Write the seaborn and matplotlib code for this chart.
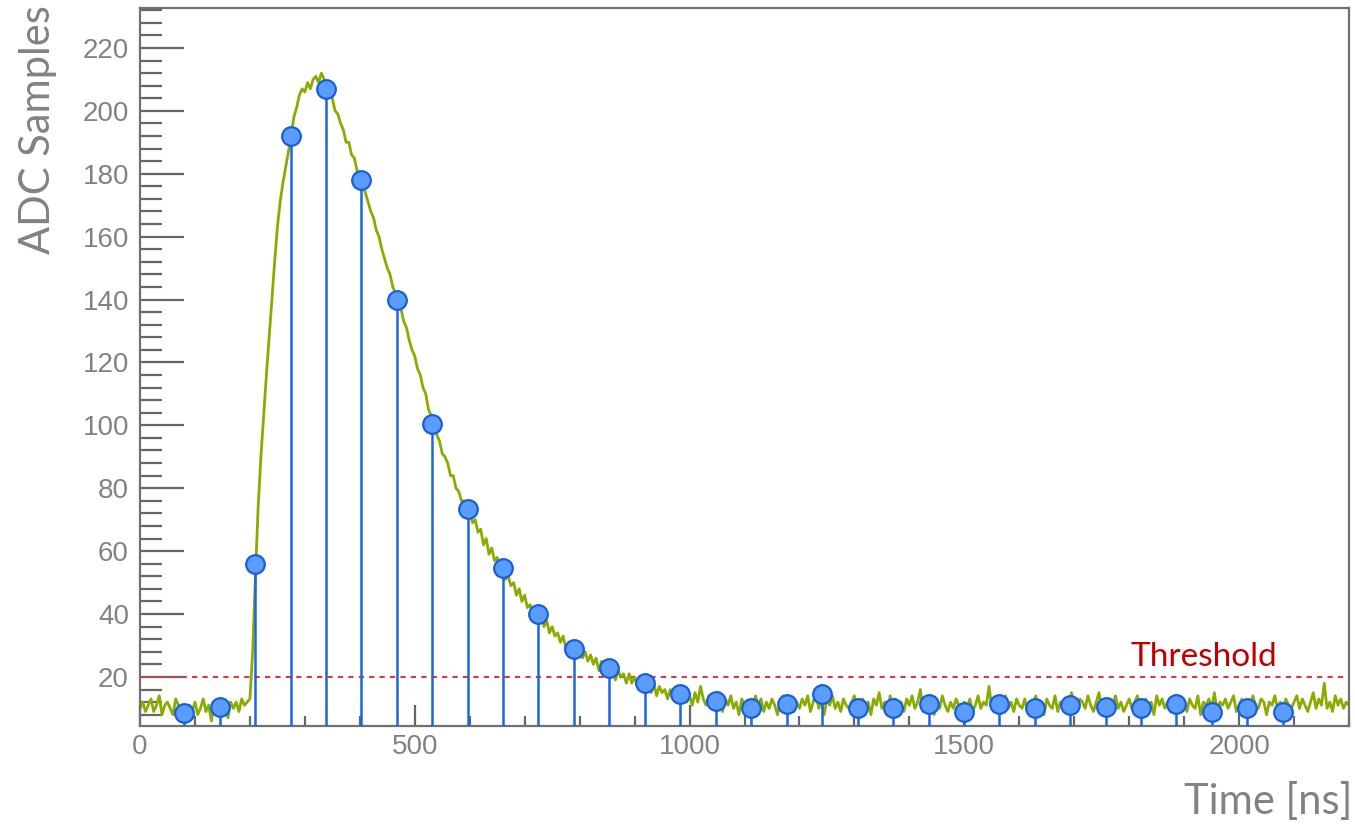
import numpy as np
import pandas as pd
import matplotlib
matplotlib.use("Agg")
import matplotlib.pyplot as plt
from matplotlib.ticker import MultipleLocator
import seaborn as sns

# ---------------- data ----------------
# continuous waveform, one reading every 5 ns from 0 to 2200 ns
wave_step_ns = 5
wave_adc = [
    10, 12, 9, 11, 13, 9, 11, 14, 8, 11, 12, 10, 8, 13, 11, 7, 10, 6, 11, 9,
    12, 8, 10, 13, 9, 11, 6, 12, 10, 13, 9, 11, 7, 12, 10, 12, 9, 13, 11, 12,
    13, 28, 52, 74, 90, 103, 116, 128, 140, 152, 163, 171, 177, 182, 187, 192, 198, 201, 205, 207,
    206, 209, 207, 210, 211, 209, 212, 210, 207, 205, 204, 200, 199, 196, 194, 190, 190, 186, 185, 181,
    180, 177, 174, 171, 168, 166, 162, 160, 156, 153, 150, 148, 144, 142, 139, 137, 133, 131, 127, 124,
    122, 118, 116, 112, 110, 105, 103, 100, 97, 95, 91, 90, 88, 84, 84, 80, 79, 76, 76, 73,
    73, 69, 70, 66, 67, 62, 64, 59, 61, 57, 58, 54, 56, 51, 52, 49, 50, 46, 48, 44,
    46, 42, 43, 40, 42, 38, 40, 36, 38, 34, 36, 33, 34, 31, 33, 29, 31, 28, 30, 27,
    29, 26, 28, 25, 27, 24, 26, 22, 25, 21, 24, 21, 23, 19, 22, 20, 21, 18, 21, 18,
    20, 17, 19, 16, 18, 17, 15, 18, 14, 17, 15, 16, 13, 16, 14, 12, 15, 13, 16, 12,
    14, 11, 15, 12, 17, 13, 11, 14, 12, 10, 13, 15, 9, 13, 11, 14, 10, 12, 8, 13,
    11, 9, 12, 10, 14, 11, 13, 9, 12, 10, 13, 11, 8, 12, 14, 10, 13, 11, 9, 12,
    10, 13, 11, 14, 9, 12, 15, 10, 12, 8, 13, 11, 14, 10, 12, 9, 13, 11, 10, 12,
    14, 9, 11, 13, 10, 12, 8, 13, 11, 15, 10, 12, 9, 14, 11, 13, 10, 12, 9, 13,
    11, 14, 10, 12, 16, 9, 12, 11, 13, 8, 12, 10, 14, 11, 9, 12, 10, 13, 11, 8,
    12, 10, 13, 9, 11, 14, 10, 12, 11, 17, 10, 13, 9, 12, 11, 14, 10, 12, 9, 13,
    11, 10, 13, 9, 12, 11, 14, 10, 12, 8, 13, 11, 10, 14, 9, 12, 11, 13, 10, 15,
    11, 9, 13, 12, 10, 14, 11, 9, 12, 15, 10, 12, 8, 13, 11, 14, 10, 12, 9, 11,
    13, 10, 12, 14, 9, 11, 13, 10, 12, 8, 14, 11, 13, 10, 12, 9, 13, 11, 14, 10,
    12, 9, 13, 11, 10, 14, 8, 12, 11, 13, 10, 15, 9, 12, 11, 13, 10, 12, 14, 9,
    11, 13, 10, 12, 9, 14, 11, 10, 13, 12, 8, 12, 11, 14, 10, 12, 9, 13, 11, 10,
    12, 14, 10, 13, 11, 9, 12, 15, 10, 13, 11, 18, 10, 12, 9, 14, 11, 13, 10, 12,
    11,
]

# ADC samples (stems with markers)
sample_time = [80, 145, 209, 274, 338, 403, 467, 532, 596, 661, 725, 790, 854, 919, 983, 1048,
               1112, 1177, 1241, 1306, 1370, 1435, 1499, 1564, 1628, 1693, 1757, 1822, 1886,
               1951, 2015, 2080]
sample_adc = [8.6, 10.5, 56, 192, 207, 178, 140, 100.5, 73.5, 54.5, 40, 29, 23, 18, 14.5, 12.5,
              10, 11.5, 14.5, 10, 10, 11.5, 9, 11.5, 10, 11, 10.5, 10, 11.5, 9, 10, 9]

threshold = 20
threshold_label = "Threshold"
x_label = "Time [ns]"
y_label = "ADC Samples"
y_major_ticks = [20, 40, 60, 80, 100, 120, 140, 160, 180, 200, 220]
x_major_ticks = [0, 500, 1000, 1500, 2000]

wave_df = pd.DataFrame({"t": np.arange(len(wave_adc)) * wave_step_ns, "adc": wave_adc})
samp_df = pd.DataFrame({"t": sample_time, "adc": sample_adc})

# ---------------- style ----------------
sns.set_style("white")
plt.rcParams["font.family"] = ["Liberation Sans", "DejaVu Sans"]

W, H, DPI = 1355, 824, 100
fig = plt.figure(figsize=(W / DPI, H / DPI), dpi=DPI)
ax = fig.add_axes([140 / W, 1 - 726 / H, (1349 - 140) / W, (726 - 8) / H])

GREEN = "#8aac00"
STEM = "#1f64e0"
FILL = "#5a9cff"
EDGE = "#1a5fd6"
GRAY = "#828282"
SPINE = "#707070"

ax.set_xlim(0, 2200)
ax.set_ylim(4.4, 232.7)

# threshold line
ax.axhline(threshold, color="#d83a3a", lw=1.5, ls=(0, (2.5, 2.5)), zorder=1)

# waveform
sns.lineplot(data=wave_df, x="t", y="adc", ax=ax, color=GREEN, lw=2.0, zorder=2,
             estimator=None, sort=False)

# stems
ax.vlines(samp_df["t"], ax.get_ylim()[0], samp_df["adc"], color=STEM, lw=1.8, zorder=3)
sns.scatterplot(data=samp_df, x="t", y="adc", ax=ax, s=180, color=FILL, edgecolor=EDGE,
                linewidth=1.6, zorder=4, clip_on=False)

ax.text(1803, 21.6, threshold_label, color="#c00000", fontsize=24,
        family=["Lato", "DejaVu Sans"], ha="left", va="bottom")

# axes styling
for side in ["left", "bottom", "top", "right"]:
    ax.spines[side].set_color(SPINE)
    ax.spines[side].set_linewidth(1.6)
    ax.spines[side].set_visible(True)

ax.set_xticks(x_major_ticks)
ax.set_yticks(y_major_ticks)
ax.xaxis.set_minor_locator(MultipleLocator(100))
ax.yaxis.set_minor_locator(MultipleLocator(4))
ax.tick_params(axis="y", which="major", direction="in", length=32, width=1.6, color="#666666",
               labelsize=20, labelcolor=GRAY, pad=8, left=True, right=False)
ax.tick_params(axis="y", which="minor", direction="in", length=16, width=1.6, color="#666666",
               left=True, right=False)
ax.tick_params(axis="x", which="major", direction="in", length=15, width=1.6, color="#666666",
               labelsize=20, labelcolor=GRAY, pad=6, bottom=True, top=False)
ax.tick_params(axis="x", which="minor", direction="in", length=7, width=1.6, color="#666666",
               bottom=True, top=False)

ax.set_xlabel("")
ax.set_ylabel("")
fig.text(1352 / W, 1 - 802 / H, x_label, fontsize=30, color=GRAY,
         family=["Lato", "DejaVu Sans"], ha="right", va="center")
fig.text(38 / W, 1 - 130 / H, y_label, fontsize=30, color=GRAY, rotation=90,
         family=["Lato", "DejaVu Sans"], ha="center", va="center")

fig.savefig("out.png", dpi=DPI)
